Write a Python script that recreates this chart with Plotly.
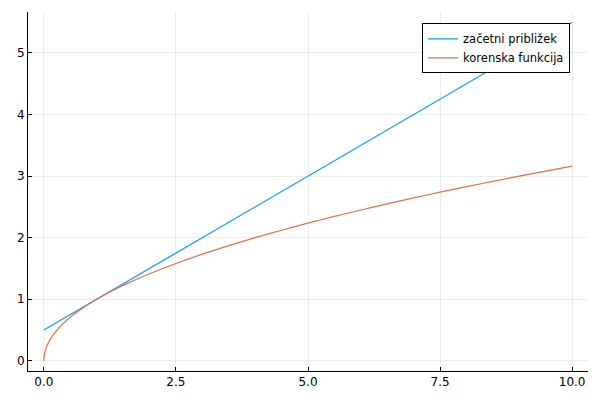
import plotly.graph_objects as go

# Series 1: "začetni približek" (straight line)
line_x = [0.0, 10.0]
line_y = [0.5, 5.5]

# Series 2: "korenska funkcija"
root_x = [0.0, 0.0025, 0.01, 0.0225, 0.04, 0.0625, 0.09, 0.16, 0.25, 0.36, 0.5, 0.64, 0.75, 1.0,
          1.25, 1.5, 2.0, 2.5, 3.0, 3.5, 4.0, 4.5, 5.0, 5.5, 6.0, 6.5, 7.0, 7.5, 8.0, 8.5, 9.0, 9.5, 10.0]
root_y = [0.0, 0.05, 0.1, 0.15, 0.2, 0.25, 0.3, 0.4, 0.5, 0.6, 0.707, 0.8, 0.866, 1.0,
          1.118, 1.225, 1.414, 1.581, 1.732, 1.871, 2.0, 2.121, 2.236, 2.345, 2.449, 2.55, 2.646, 2.739,
          2.828, 2.915, 3.0, 3.082, 3.162]

x_ticks = [0, 2.5, 5, 7.5, 10]
x_tick_labels = ["0.0", "2.5", "5.0", "7.5", "10.0"]
y_ticks = [0, 1, 2, 3, 4, 5]

fig = go.Figure()
fig.add_trace(go.Scatter(x=line_x, y=line_y, mode="lines", name="začetni približek",
                         line=dict(color="#009AFA", width=1.2)))
fig.add_trace(go.Scatter(x=root_x, y=root_y, mode="lines", name="korenska funkcija",
                         line=dict(color="#E26F46", width=1.2, shape="spline", smoothing=0.6)))

axis_common = dict(showgrid=True, gridcolor="rgba(0,0,0,0.07)", gridwidth=1,
                   zeroline=False, showline=True, linecolor="black", linewidth=1,
                   ticks="inside", ticklen=4, tickcolor="black", tickwidth=1,
                   tickfont=dict(size=12, color="black"), automargin=False)

fig.update_layout(
    width=600, height=400,
    margin=dict(l=28, r=12, t=12, b=29),
    paper_bgcolor="white", plot_bgcolor="white",
    font=dict(family="DejaVu Sans", size=12, color="black"),
    xaxis=dict(range=[-0.3, 10.3], tickvals=x_ticks, ticktext=x_tick_labels, **axis_common),
    yaxis=dict(range=[-0.165, 5.665], tickvals=y_ticks, **axis_common),
    legend=dict(x=0.968, y=0.9685, xanchor="right", yanchor="top",
                bgcolor="white", bordercolor="black", borderwidth=1,
                font=dict(size=11.5), tracegroupgap=0, itemwidth=30),
    showlegend=True,
)

fig.write_html("out.html", config={"displayModeBar": False},
               post_script="document.body.style.margin='0';document.body.style.padding='0';")
